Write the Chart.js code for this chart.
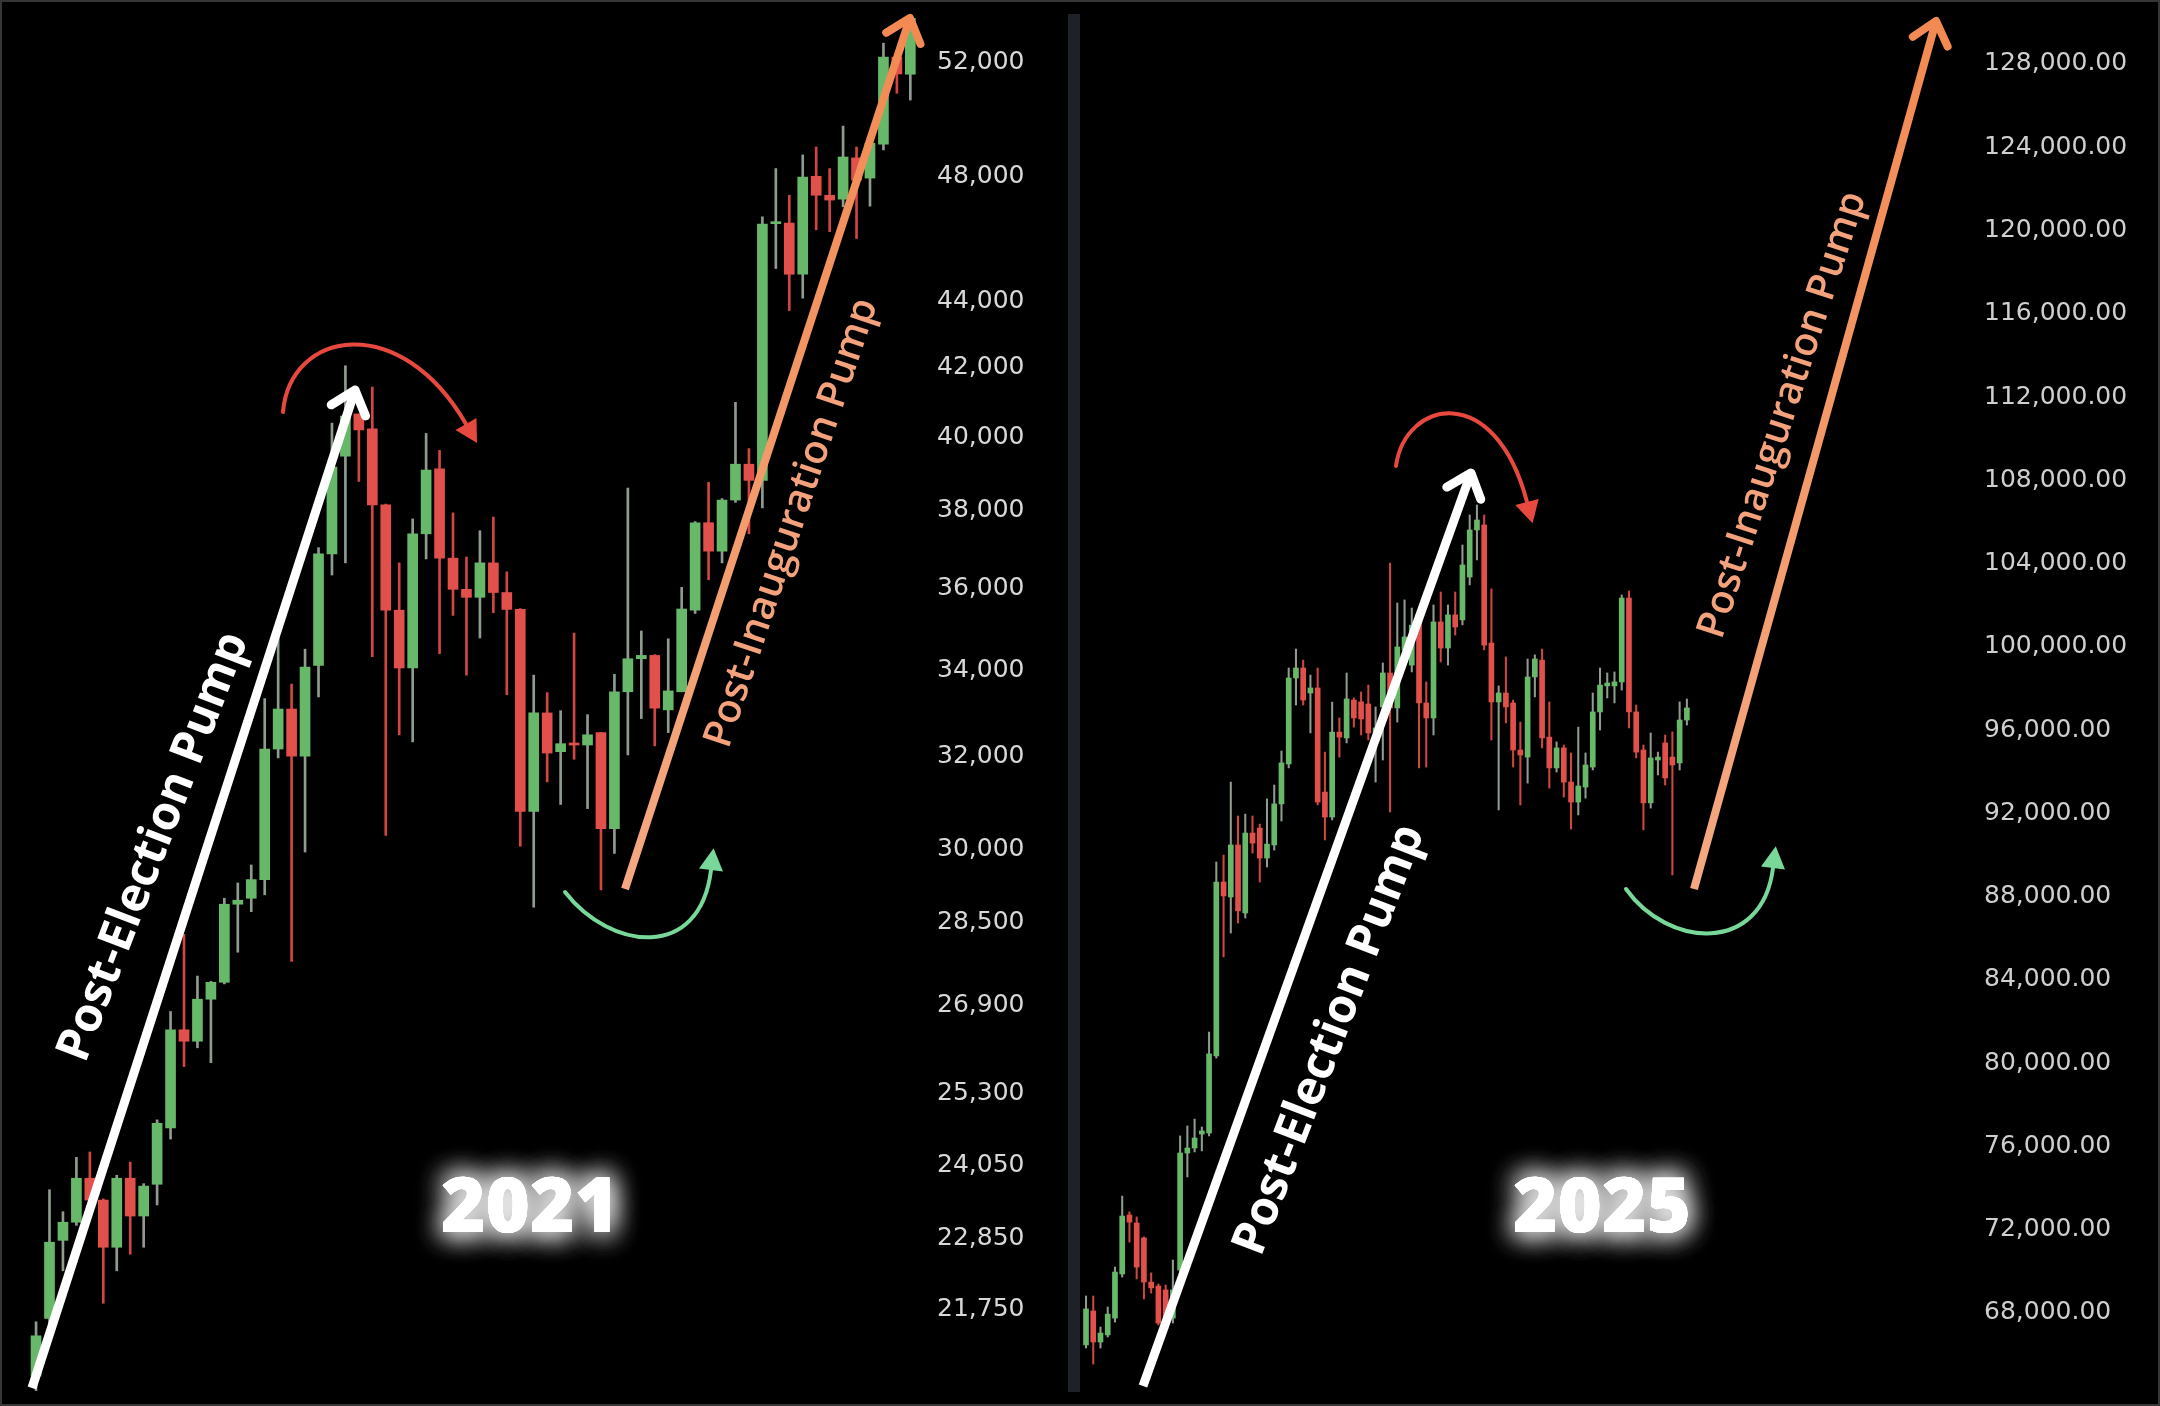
<!DOCTYPE html>
<html>
<head>
<meta charset="utf-8">
<script src="https://cdn.jsdelivr.net/npm/chart.js@4.4.1/dist/chart.umd.min.js"></script>
<style>
  html, body { margin: 0; padding: 0; background: #000; }
  #page { position: relative; width: 2160px; height: 1406px; background: #000; overflow: hidden; }
  #leftWrap { position: absolute; left: 0; top: 0; width: 1068px; height: 1406px; }
  #rightWrap { position: absolute; left: 1080px; top: 0; width: 1080px; height: 1406px; }
  #divider { position: absolute; left: 1068px; top: 14px; width: 12px; height: 1378px; background: #1e2128; }
  #overlay { position: absolute; left: 0; top: 0; pointer-events: none; }
  #frame { position: absolute; left: 0; top: 0; width: 2156px; height: 1402px; border: 2px solid #363636; pointer-events: none; }
</style>
</head>
<body>
<div id="page">
  <div id="leftWrap"><canvas id="leftChart" width="1068" height="1406"></canvas></div>
  <div id="divider"></div>
  <div id="rightWrap"><canvas id="rightChart" width="1080" height="1406"></canvas></div>
  <canvas id="overlay" width="2160" height="1406"></canvas>
  <div id="frame"></div>
</div>
<script>
// 2021 panel (daily candles)
const leftOpen = [20720,21570,22780,23070,23790,23430,22670,23790,23170,23690,
  24640,26390,26180,26960,27280,28810,28930,29310,32110,33020,
  31950,34040,36800,39400,40580,40160,38080,35380,33980,37320,
  39050,36690,35900,35700,36570,35820,35400,30740,32930,32050,
  32230,32200,32480,30370,33420,34200,34280,33000,33420,35380,
  37610,36870,38210,39180,38740,46350,46370,44740,47910,47280,
  47150,48530,47850,49000,52070,51450];
const leftHigh = [21520,23600,23240,24140,24230,23450,23840,24060,23700,24780,
  26730,28210,27400,27300,28930,29240,29610,33260,34700,33600,
  34430,36960,40320,41970,40580,41350,38100,36570,37710,40030,
  39560,37870,36720,37400,37760,36340,35420,33810,33400,32980,
  34820,32890,32480,33830,38530,34870,34300,34680,35950,37640,
  38690,38250,40910,39610,46570,48170,47280,48630,48900,48170,
  49620,48900,49100,52580,52070,53600];
const leftLow = [20510,21250,22300,23020,23350,21800,22300,22560,22670,23350,
  24450,25720,26060,25790,27250,27860,28660,29000,31910,27680,
  29880,33300,36260,36570,38710,34250,30230,32430,32270,36670,
  34320,35250,33810,34700,35320,33350,30000,28750,31380,30890,
  31880,30800,29100,29850,31980,32800,32180,32480,33420,35300,
  36140,36570,38150,37320,38000,44920,43620,44000,46150,46090,
  46900,45870,46920,48800,50770,50530];
const leftClose = [21310,22750,23070,23790,23430,22670,23790,23170,23660,24720,
  26390,26180,26960,27280,28810,28890,29310,32110,33020,31950,
  34000,36800,39100,40520,40130,38080,35380,33980,37320,39020,
  36690,35900,35700,36570,35820,35400,30740,32930,32020,32230,
  32200,32430,30370,33420,34200,34280,33040,33440,35410,37610,
  36870,38210,39180,38740,46340,46400,44740,47880,47280,47120,
  48560,47780,49030,52070,51460,53500];
const leftTicks = [21750,22850,24050,25300,26900,28500,30000,32000,34000,36000,38000,40000,42000,44000,48000,52000];

// 2025 panel (denser candles)
const rightOpen = [66320,67950,66460,66800,67610,69730,72560,72180,71460,69340,
  69150,68960,67610,69920,75540,75780,76450,76500,80200,88560,
  87840,90340,87070,90910,91150,89710,90340,92310,94230,98360,
  98840,97640,97880,92880,91680,95760,95480,97300,97210,97110,
  95720,96970,98600,96920,99700,98980,101050,97160,96440,101050,
  99800,101390,101150,103210,105470,105710,100040,97210,97640,97160,
  94900,94560,98410,99220,95520,94040,95000,93360,92400,93120,
  94080,96730,97980,97980,98170,102200,96730,94900,92360,94420,
  95240,94560,94280,96340];
const rightHigh = [68670,68670,67180,68140,70060,73470,72710,72470,71510,69780,
  69250,69200,70400,76360,76840,77170,76790,81350,89520,89850,
  93360,91730,91820,91730,91340,92550,93220,94850,98840,99750,
  99220,98500,98840,94800,97200,96440,98600,97400,97690,98020,
  96970,99080,103880,101960,102110,101720,101240,98170,101870,102490,
  101870,102490,104750,106190,106670,106190,102640,97980,99370,97300,
  96240,99270,99470,99750,97210,95290,95140,94760,96000,94760,
  97640,98840,98600,98650,102350,102540,97060,95140,95720,94800,
  95620,95770,97210,97350];
const rightLow = [66170,65400,66170,66700,67420,69580,71260,69490,68530,68810,
  67280,67040,67370,69680,74390,75590,75640,76360,80100,84960,
  86110,86590,86830,89950,88560,89280,90090,91490,94040,97060,
  97060,95720,92260,90580,91540,94560,95240,96000,95620,95380,
  93360,94420,91920,96240,99220,98650,94040,94080,95620,99130,
  98980,100420,100910,102830,104030,99710,95380,92020,96200,94080,
  92260,93310,97450,95000,93070,93840,92640,91100,91780,92590,
  93940,95860,97400,97160,97780,95960,94520,91060,92110,93700,
  93220,88900,93940,96100];
const rightClose = [68050,66460,66890,67800,69820,72510,72220,70060,69340,69060,
  67370,67610,68960,75540,75780,76260,76600,80300,88560,87890,
  90340,87170,90910,90430,89710,90380,92310,94280,98360,98840,
  97300,97880,92400,91680,95760,95520,97350,96440,96390,95720,
  95960,98600,96920,99850,100330,100900,97160,96440,101050,99800,
  101390,100810,103790,105470,105950,99940,97210,97640,96970,94900,
  94660,98410,99270,95480,94040,95000,93360,92400,93170,94180,
  96730,98020,98120,98170,102200,96730,94800,92360,94520,94560,
  93560,94180,96340,96920];
const rightTicks = [68000,72000,76000,80000,84000,88000,92000,96000,100000,104000,108000,112000,116000,120000,124000,128000];

const GREEN = '#68b86a';
const RED = '#e2504c';
const GREEN_WICK = '#8e9c8f';
const RED_WICK = '#d04642';

function candleChart(canvasId, o, h, l, c, opts) {
  const idx = o.map((_, i) => i);
  const up = (i) => c[i] >= o[i];
  return new Chart(document.getElementById(canvasId), {
    type: 'bar',
    data: {
      datasets: [
        {
          label: 'body',
          data: idx.map(i => ({ x: i, y: [o[i], c[i]] })),
          backgroundColor: ctx => up(ctx.dataIndex) ? GREEN : RED,
          barThickness: opts.body,
          minBarLength: 2,
          grouped: false,
          order: 0
        },
        {
          label: 'wick',
          data: idx.map(i => ({ x: i, y: [l[i], h[i]] })),
          backgroundColor: ctx => up(ctx.dataIndex) ? GREEN_WICK : RED_WICK,
          barThickness: opts.wick,
          grouped: false,
          order: 1
        }
      ]
    },
    options: {
      responsive: false,
      animation: false,
      devicePixelRatio: 1,
      layout: { padding: 0, autoPadding: false },
      plugins: { legend: { display: false }, tooltip: { enabled: false } },
      scales: {
        x: { type: 'linear', min: opts.xMin, max: opts.xMax, offset: false, display: false },
        y: {
          type: opts.yType,
          position: 'right',
          min: opts.yMin,
          max: opts.yMax,
          grid: { display: false, drawTicks: false },
          border: { display: false },
          afterBuildTicks: s => { s.ticks = opts.ticks.map(v => ({ value: v })); },
          afterFit: s => {
            s.width = opts.axisWidth;
            s.paddingTop = 0;
            s.paddingBottom = 0;
          },
          ticks: {
            color: opts.tickColor,
            padding: opts.pad,
            labelOffset: 3,
            autoSkip: false,
            font: { family: 'DejaVu Sans', size: 25 },
            callback: opts.fmt
          }
        }
      }
    }
  });
}

candleChart('leftChart', leftOpen, leftHigh, leftLow, leftClose, {
  body: 10, wick: 2,
  xMin: -2.68, xMax: 66.09,
  yType: 'logarithmic', yMin: 20290, yMax: 54190,
  ticks: leftTicks, axisWidth: 143, pad: 12, tickColor: '#d8d8d8',
  fmt: v => Number(v).toLocaleString('en-US')
});

candleChart('rightChart', rightOpen, rightHigh, rightLow, rightClose, {
  body: 5, wick: 1.4,
  xMin: -0.83, xMax: 122.8,
  yType: 'linear', yMin: 63386, yMax: 130930,
  ticks: rightTicks, axisWidth: 185, pad: 9, tickColor: '#cfcfcf',
  fmt: v => Number(v).toLocaleString('en-US', { minimumFractionDigits: 2, maximumFractionDigits: 2 })
});

// Annotations drawn on top
const ov = document.getElementById('overlay');
const g = ov.getContext('2d');

function straightArrow(x1, y1, x2, y2, stroke, width) {
  const a = Math.atan2(y2 - y1, x2 - x1);
  g.save();
  g.strokeStyle = stroke;
  g.lineWidth = width;
  g.lineCap = 'butt';
  g.beginPath();
  g.moveTo(x1, y1);
  g.lineTo(x2 - 4 * Math.cos(a), y2 - 4 * Math.sin(a));
  g.stroke();
  g.lineCap = 'round';
  g.lineJoin = 'round';
  const len = 28, spread = 0.7;
  g.beginPath();
  g.moveTo(x2 + len * Math.cos(a + Math.PI - spread), y2 + len * Math.sin(a + Math.PI - spread));
  g.lineTo(x2, y2);
  g.lineTo(x2 + len * Math.cos(a + Math.PI + spread), y2 + len * Math.sin(a + Math.PI + spread));
  g.stroke();
  g.restore();
}

function curvedArrow(p, color, width, head) {
  g.save();
  g.strokeStyle = color;
  g.fillStyle = color;
  g.lineWidth = width;
  g.lineCap = 'round';
  g.beginPath();
  g.moveTo(p[0], p[1]);
  g.bezierCurveTo(p[2], p[3], p[4], p[5], p[6], p[7]);
  g.stroke();
  const a = Math.atan2(p[7] - p[5], p[6] - p[4]);
  const px = Math.cos(a + Math.PI / 2), py = Math.sin(a + Math.PI / 2);
  g.beginPath();
  g.moveTo(p[6] + head * Math.cos(a), p[7] + head * Math.sin(a));
  g.lineTo(p[6] + head * 0.55 * px, p[7] + head * 0.55 * py);
  g.lineTo(p[6] - head * 0.55 * px, p[7] - head * 0.55 * py);
  g.closePath();
  g.fill();
  g.restore();
}

function rotatedText(text, cx, cy, deg, len, weight, color) {
  g.save();
  g.font = weight + " 100px 'Open Sans'";
  const size = 100 * len / g.measureText(text).width;
  g.font = weight + ' ' + size.toFixed(1) + "px 'Open Sans'";
  g.translate(cx, cy);
  g.rotate(deg * Math.PI / 180);
  g.fillStyle = color;
  g.textAlign = 'center';
  g.textBaseline = 'middle';
  g.fillText(text, 0, 0);
  g.restore();
}

function glowText(text, cx, cy, len) {
  g.save();
  g.font = "800 100px 'Open Sans'";
  const size = 100 * len / g.measureText(text).width;
  g.font = '800 ' + size.toFixed(1) + "px 'Open Sans'";
  g.textAlign = 'center';
  g.textBaseline = 'middle';
  g.fillStyle = '#ffffff';
  g.shadowColor = 'rgba(255,255,255,0.85)';
  g.shadowBlur = 28;
  for (let k = 0; k < 3; k++) g.fillText(text, cx, cy);
  g.shadowBlur = 0;
  g.fillText(text, cx, cy);
  g.restore();
}

function orangeGrad(x1, y1, x2, y2) {
  const gr = g.createLinearGradient(x1, y1, x2, y2);
  gr.addColorStop(0, '#f4a982');
  gr.addColorStop(1, '#f28a52');
  return gr;
}

// 2021
straightArrow(32, 1388, 355, 390, '#ffffff', 9);
rotatedText('Post-Election Pump', 154, 847, -69, 455, 'bold', '#ffffff');
curvedArrow([283, 412, 290, 330, 400, 310, 466, 424], '#e8493f', 4, 22);
straightArrow(625, 889, 910, 18, orangeGrad(625, 889, 910, 18), 8);
rotatedText('Post-Inauguration Pump', 792, 523, -71.5, 470, '600', '#f3a27c');
curvedArrow([565, 892, 610, 950, 700, 962, 711, 870], '#78d89a', 4, 22);
glowText('2021', 530, 1210, 178);

// 2025
straightArrow(1143, 1386, 1471, 473, '#ffffff', 9);
rotatedText('Post-Election Pump', 1330, 1040, -69, 456, 'bold', '#ffffff');
curvedArrow([1396, 466, 1405, 400, 1495, 380, 1527, 502], '#e8493f', 4, 22);
straightArrow(1694, 889, 1936, 21, orangeGrad(1694, 889, 1936, 21), 8);
rotatedText('Post-Inauguration Pump', 1783, 415, -72, 467, '600', '#f3a27c');
curvedArrow([1626, 889, 1668, 948, 1762, 955, 1773, 868], '#78d89a', 4, 22);
glowText('2025', 1602, 1210, 178);
</script>
</body>
</html>
